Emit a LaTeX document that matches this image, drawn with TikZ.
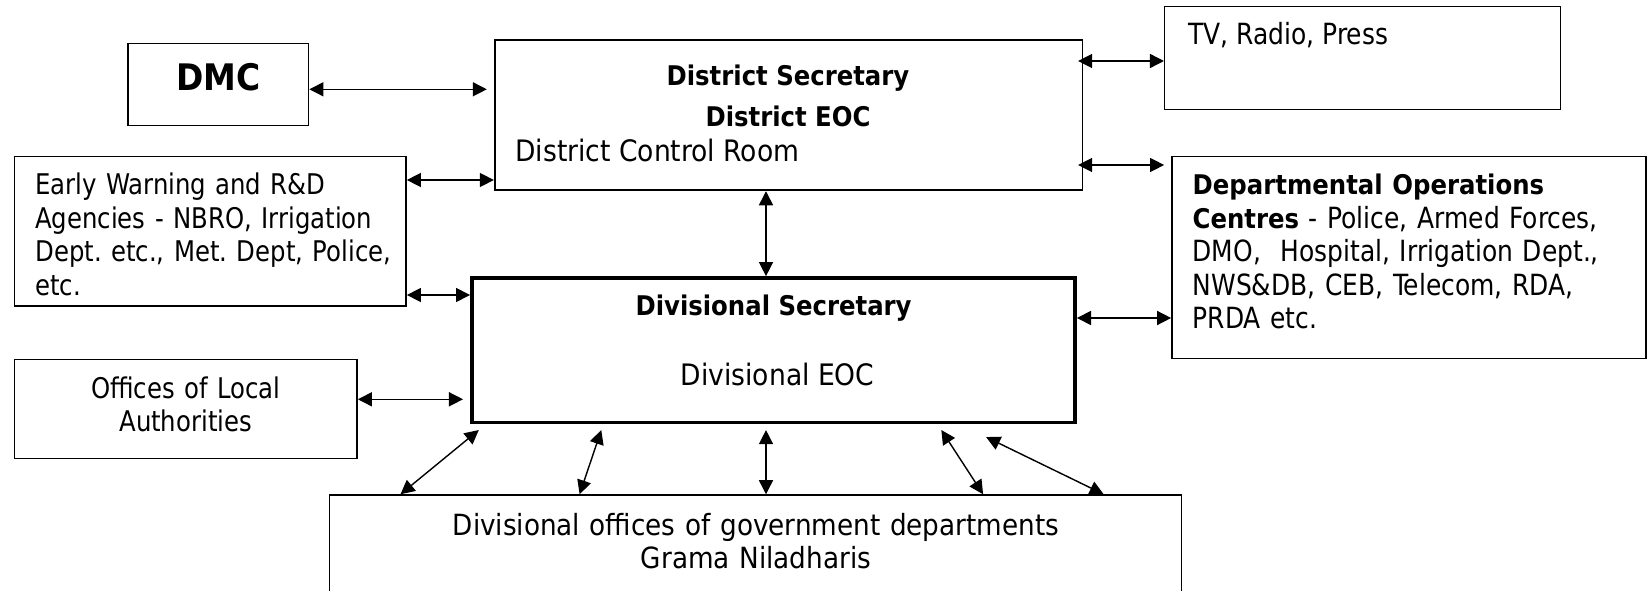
\documentclass[tikz,border=0pt]{standalone}
\usepackage{fontspec}
\setmainfont{DejaVu Sans Condensed}
\newfontfamily\narrow{DejaVu Sans Condensed}[FakeStretch=0.95]
\usetikzlibrary{arrows.meta}
\frenchspacing

% bold heading inside running text
\newcommand\hd[1]{{\fontsize{7.7}{9.5}\selectfont\normalfont\bfseries #1}}

\tikzset{
  box/.style={draw, line width=0.4pt, inner sep=0pt},
  lbl/.style={inner sep=0pt, font=\narrow\fontsize{8.3}{9.5}\selectfont},
  small lbl/.style={inner sep=0pt, font=\narrow\fontsize{8.1}{9.5}\selectfont},
  wide lbl/.style={inner sep=0pt, font=\fontsize{8.4}{9.5}\selectfont},
  head/.style={inner sep=0pt, font=\fontsize{7.7}{9.5}\selectfont\bfseries},
}

\begin{document}
\begin{tikzpicture}[x=0.01cm, y=-0.01cm, >={Triangle[length=4pt,width=4pt]}, line width=0.4pt]
  \clip (0,0) rectangle (1651,591);

  % boxes
  \node[box, minimum width=1.806cm, minimum height=0.82cm] (dmc) at (218.3,84.7) {};
  \node[box, line width=0.5pt, minimum width=5.874cm, minimum height=1.5cm] (dist) at (788.6,115.3) {};
  \node[box, minimum width=3.958cm, minimum height=1.026cm] (tv) at (1362.7,58) {};
  \node[box, minimum width=4.74cm, minimum height=2.016cm] (dept) at (1409,257.5) {};
  \node[box, minimum width=3.917cm, minimum height=1.493cm] (ew) at (210.2,231.3) {};
  \node[box, line width=1pt, minimum width=6.03cm, minimum height=1.447cm] (div) at (773.5,350.3) {};
  \node[box, minimum width=3.427cm, minimum height=0.99cm] (loc) at (185.7,408.8) {};
  \node[box, minimum width=8.51cm, minimum height=1.3cm] (gov) at (755.5,560) {};

  % texts
  \node[head, font=\fontsize{10.4}{12}\selectfont\bfseries, anchor=base] (dmctxt) at (218.3,91) {DMC};
  \node[head, anchor=base] (disttitle) at (788,86) {District Secretary};
  \node[head, anchor=base] (disteoc) at (788,126.7) {District EOC};
  \node[wide lbl, anchor=base west] (distroom) at (514.7,161.7) {District Control Room};
  \node[lbl, anchor=base west] (tvtxt) at (1188,45) {TV, Radio, Press};
  \node[lbl, anchor=base west, text width=4.5cm, align=left] (depttxt) at (1192,195)
    {\hd{Departmental Operations}\\ \hd{Centres} - Police, Armed Forces,\\ DMO,~ Hospital, Irrigation Dept.,\\ NWS\&DB, CEB, Telecom, RDA,\\ PRDA etc.};
  \node[small lbl, anchor=base west, text width=4.2cm, align=left] (ewtxt) at (34.6,195)
    {Early Warning and R\&D\\ Agencies - NBRO, Irrigation\\ Dept. etc., Met. Dept, Police,\\ etc.};
  \node[head, anchor=base] (divtitle) at (773.6,316) {Divisional Secretary};
  \node[wide lbl, anchor=base] (diveoc) at (777.6,385) {Divisional EOC};
  \node[small lbl, anchor=base, text width=3.2cm, align=center] (loctxt) at (185.7,398.3)
    {Offices of Local\\ Authorities};
  \node[wide lbl, font=\fontsize{8.3}{9.5}\selectfont, anchor=base, text width=8cm, align=center] (govtxt) at (756,535)
    {Divisional offices of government departments\\ Grama Niladharis};

  % links
  \draw[<->, shorten >=2pt] (dmc.east |- 0,89.3) -- (dist.west |- 0,89.3);
  \draw[<->] (ew.east |- 0,180) -- (dist.west |- 0,180);
  \draw[<->] (ew.east |- 0,295) -- (div.west |- 0,295);
  \draw[<->, shorten >=2pt] (loc.east |- 0,399.3) -- (div.west |- 0,399.3);
  \draw[<->, shorten <=-1.5pt] (dist.east |- 0,61) -- (tv.west |- 0,61);
  \draw[<->, shorten <=-1.5pt, shorten >=2pt] (dist.east |- 0,165) -- (dept.west |- 0,165);
  \draw[<->] (div.east |- 0,318) -- (dept.west |- 0,318);
  \draw[<->] (dist.south -| 766,0) -- (div.north -| 766,0);
  \foreach \a/\b/\s in {485.6/400.5/2.5, 603.2/579.6/1.7, 766/766/1.6, 937.7/983.1/1.9, 960.2/1103.7/8.2}
    \draw[<->, shorten <=\s pt] (div.south -| \a,0) -- (gov.north -| \b,0);
\end{tikzpicture}
\end{document}
